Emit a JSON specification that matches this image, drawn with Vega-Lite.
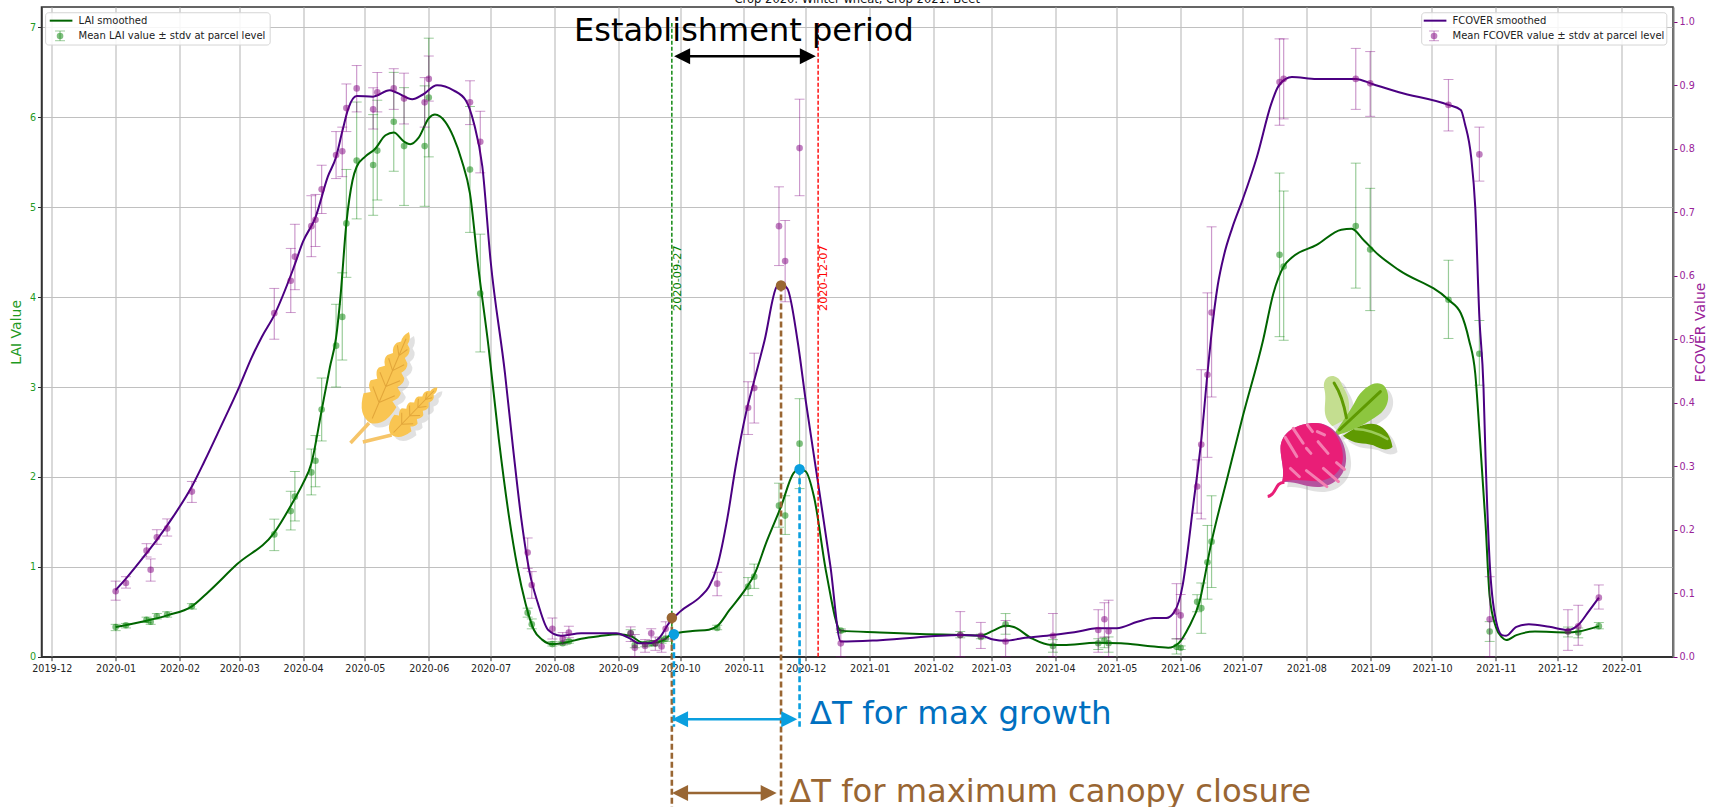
{
"$schema":"https://vega.github.io/schema/vega-lite/v6.json",
"autosize":"none","width":1631.5,"height":649.7,
"padding":{"left":41.5,"top":7,"right":36,"bottom":150.3},
"background":"white",
"config":{"font":"DejaVu Sans","view":{"stroke":"#333","strokeWidth":1.5}},
"datasets":{
"obs":[
{"date":"2020-01-01","lai":0.33,"lai_lo":0.29,"lai_hi":0.36,"fc":0.103,"fc_lo":0.089,"fc_hi":0.119},
{"date":"2020-01-06","lai":0.35,"lai_lo":0.32,"lai_hi":0.37,"fc":0.116,"fc_lo":0.108,"fc_hi":0.126},
{"date":"2020-01-16","lai":0.41,"lai_lo":0.38,"lai_hi":0.44,"fc":0.167,"fc_lo":0.157,"fc_hi":0.178},
{"date":"2020-01-18","lai":0.39,"lai_lo":0.36,"lai_hi":0.42,"fc":0.137,"fc_lo":0.119,"fc_hi":0.154},
{"date":"2020-01-21","lai":0.45,"lai_lo":0.42,"lai_hi":0.48,"fc":0.188,"fc_lo":0.177,"fc_hi":0.2},
{"date":"2020-01-26","lai":0.47,"lai_lo":0.44,"lai_hi":0.5,"fc":0.202,"fc_lo":0.19,"fc_hi":0.217},
{"date":"2020-02-07","lai":0.56,"lai_lo":0.53,"lai_hi":0.59,"fc":0.26,"fc_lo":0.243,"fc_hi":0.276},
{"date":"2020-03-18","lai":1.36,"lai_lo":1.18,"lai_hi":1.53,"fc":0.541,"fc_lo":0.5,"fc_hi":0.58},
{"date":"2020-03-26","lai":1.62,"lai_lo":1.41,"lai_hi":1.84,"fc":0.592,"fc_lo":0.542,"fc_hi":0.643},
{"date":"2020-03-28","lai":1.78,"lai_lo":1.51,"lai_hi":2.06,"fc":0.63,"fc_lo":0.578,"fc_hi":0.681},
{"date":"2020-04-05","lai":2.05,"lai_lo":1.8,"lai_hi":2.31,"fc":0.678,"fc_lo":0.63,"fc_hi":0.726},
{"date":"2020-04-07","lai":2.18,"lai_lo":1.89,"lai_hi":2.46,"fc":0.688,"fc_lo":0.646,"fc_hi":0.728},
{"date":"2020-04-10","lai":2.75,"lai_lo":2.4,"lai_hi":3.1,"fc":0.736,"fc_lo":0.698,"fc_hi":0.774},
{"date":"2020-04-17","lai":3.46,"lai_lo":3.0,"lai_hi":3.92,"fc":0.79,"fc_lo":0.753,"fc_hi":0.827},
{"date":"2020-04-20","lai":3.78,"lai_lo":3.3,"lai_hi":4.27,"fc":0.796,"fc_lo":0.756,"fc_hi":0.834},
{"date":"2020-04-22","lai":4.82,"lai_lo":4.22,"lai_hi":5.42,"fc":0.864,"fc_lo":0.827,"fc_hi":0.902},
{"date":"2020-04-27","lai":5.52,"lai_lo":4.87,"lai_hi":6.17,"fc":0.895,"fc_lo":0.858,"fc_hi":0.931},
{"date":"2020-05-05","lai":5.47,"lai_lo":4.91,"lai_hi":6.03,"fc":0.862,"fc_lo":0.831,"fc_hi":0.896},
{"date":"2020-05-07","lai":5.63,"lai_lo":5.08,"lai_hi":6.19,"fc":0.889,"fc_lo":0.858,"fc_hi":0.92},
{"date":"2020-05-15","lai":5.95,"lai_lo":5.4,"lai_hi":6.5,"fc":0.895,"fc_lo":0.862,"fc_hi":0.926},
{"date":"2020-05-20","lai":5.68,"lai_lo":5.02,"lai_hi":6.33,"fc":0.879,"fc_lo":0.839,"fc_hi":0.919},
{"date":"2020-05-30","lai":5.68,"lai_lo":5.01,"lai_hi":6.35,"fc":0.873,"fc_lo":0.834,"fc_hi":0.912},
{"date":"2020-06-01","lai":6.22,"lai_lo":5.56,"lai_hi":6.88,"fc":0.91,"fc_lo":0.875,"fc_hi":0.946},
{"date":"2020-06-21","lai":5.42,"lai_lo":4.72,"lai_hi":6.12,"fc":0.873,"fc_lo":0.838,"fc_hi":0.907},
{"date":"2020-06-26","lai":4.04,"lai_lo":3.39,"lai_hi":4.7,"fc":0.811,"fc_lo":0.762,"fc_hi":0.859},
{"date":"2020-07-19","lai":0.49,"lai_lo":0.44,"lai_hi":0.54,"fc":0.164,"fc_lo":0.139,"fc_hi":0.187},
{"date":"2020-07-21","lai":0.36,"lai_lo":0.31,"lai_hi":0.42,"fc":0.113,"fc_lo":0.092,"fc_hi":0.134},
{"date":"2020-07-31","lai":0.14,"lai_lo":0.12,"lai_hi":0.17,"fc":0.044,"fc_lo":0.028,"fc_hi":0.061},
{"date":"2020-08-05","lai":0.15,"lai_lo":0.13,"lai_hi":0.17,"fc":0.028,"fc_lo":0.02,"fc_hi":0.038},
{"date":"2020-08-08","lai":0.17,"lai_lo":0.15,"lai_hi":0.19,"fc":0.038,"fc_lo":0.03,"fc_hi":0.048},
{"date":"2020-09-07","lai":0.26,"lai_lo":0.22,"lai_hi":0.3,"fc":0.037,"fc_lo":0.024,"fc_hi":0.047},
{"date":"2020-09-09","lai":0.13,"lai_lo":0.1,"lai_hi":0.17,"fc":0.014,"fc_lo":0,"fc_hi":0.035},
{"date":"2020-09-14","lai":0.14,"lai_lo":0.11,"lai_hi":0.17,"fc":0.017,"fc_lo":0.007,"fc_hi":0.027},
{"date":"2020-09-17","lai":0.15,"lai_lo":0.12,"lai_hi":0.18,"fc":0.037,"fc_lo":0.025,"fc_hi":0.044},
{"date":"2020-09-19","lai":0.15,"lai_lo":0.12,"lai_hi":0.18,"fc":0.021,"fc_lo":0.01,"fc_hi":0.031},
{"date":"2020-09-22","lai":0.18,"lai_lo":0.15,"lai_hi":0.21,"fc":0.016,"fc_lo":0.007,"fc_hi":0.027},
{"date":"2020-09-24","lai":0.2,"lai_lo":0.17,"lai_hi":0.23,"fc":0.044,"fc_lo":0.028,"fc_hi":0.055},
{"date":"2020-10-19","lai":0.32,"lai_lo":0.3,"lai_hi":0.35,"fc":0.115,"fc_lo":0.096,"fc_hi":0.133},
{"date":"2020-11-03","lai":0.78,"lai_lo":0.68,"lai_hi":0.88,"fc":0.392,"fc_lo":0.35,"fc_hi":0.433},
{"date":"2020-11-06","lai":0.89,"lai_lo":0.76,"lai_hi":1.03,"fc":0.423,"fc_lo":0.368,"fc_hi":0.478},
{"date":"2020-11-18","lai":1.68,"lai_lo":1.44,"lai_hi":1.93,"fc":0.678,"fc_lo":0.616,"fc_hi":0.74},
{"date":"2020-11-21","lai":1.57,"lai_lo":1.36,"lai_hi":1.79,"fc":0.623,"fc_lo":0.559,"fc_hi":0.687},
{"date":"2020-11-28","lai":2.37,"lai_lo":1.87,"lai_hi":2.87,"fc":0.801,"fc_lo":0.726,"fc_hi":0.878},
{"date":"2020-12-18","lai":0.29,"lai_lo":0.27,"lai_hi":0.31,"fc":0.021,"fc_lo":0,"fc_hi":0.042},
{"date":"2021-02-14","lai":0.24,"lai_lo":0.21,"lai_hi":0.28,"fc":0.034,"fc_lo":0,"fc_hi":0.071},
{"date":"2021-02-24","lai":0.22,"lai_lo":0.2,"lai_hi":0.25,"fc":0.033,"fc_lo":0.013,"fc_hi":0.054},
{"date":"2021-03-08","lai":0.36,"lai_lo":0.25,"lai_hi":0.48,"fc":0.024,"fc_lo":0,"fc_hi":0.057},
{"date":"2021-03-31","lai":0.12,"lai_lo":0.05,"lai_hi":0.19,"fc":0.033,"fc_lo":0,"fc_hi":0.068},
{"date":"2021-04-22","lai":0.15,"lai_lo":0.08,"lai_hi":0.2,"fc":0.042,"fc_lo":0.007,"fc_hi":0.074},
{"date":"2021-04-25","lai":0.18,"lai_lo":0.1,"lai_hi":0.21,"fc":0.059,"fc_lo":0.031,"fc_hi":0.085},
{"date":"2021-04-27","lai":0.15,"lai_lo":0.05,"lai_hi":0.22,"fc":0.04,"fc_lo":0,"fc_hi":0.089},
{"date":"2021-05-30","lai":0.11,"lai_lo":0.03,"lai_hi":0.2,"fc":0.071,"fc_lo":0.028,"fc_hi":0.115},
{"date":"2021-06-01","lai":0.1,"lai_lo":0.08,"lai_hi":0.12,"fc":0.065,"fc_lo":0.028,"fc_hi":0.098},
{"date":"2021-06-09","lai":0.61,"lai_lo":0.5,"lai_hi":0.69,"fc":0.268,"fc_lo":0.226,"fc_hi":0.31},
{"date":"2021-06-11","lai":0.54,"lai_lo":0.26,"lai_hi":0.82,"fc":0.334,"fc_lo":0.217,"fc_hi":0.452},
{"date":"2021-06-14","lai":1.05,"lai_lo":0.64,"lai_hi":1.46,"fc":0.444,"fc_lo":0.314,"fc_hi":0.573},
{"date":"2021-06-16","lai":1.28,"lai_lo":0.77,"lai_hi":1.79,"fc":0.542,"fc_lo":0.409,"fc_hi":0.677},
{"date":"2021-07-19","lai":4.47,"lai_lo":3.56,"lai_hi":5.38,"fc":0.905,"fc_lo":0.837,"fc_hi":0.973},
{"date":"2021-07-21","lai":4.34,"lai_lo":3.52,"lai_hi":5.18,"fc":0.91,"fc_lo":0.847,"fc_hi":0.973},
{"date":"2021-08-25","lai":4.79,"lai_lo":4.1,"lai_hi":5.49,"fc":0.91,"fc_lo":0.862,"fc_hi":0.958},
{"date":"2021-09-01","lai":4.53,"lai_lo":3.85,"lai_hi":5.21,"fc":0.903,"fc_lo":0.851,"fc_hi":0.953},
{"date":"2021-10-09","lai":3.97,"lai_lo":3.54,"lai_hi":4.41,"fc":0.869,"fc_lo":0.828,"fc_hi":0.909},
{"date":"2021-10-24","lai":3.37,"lai_lo":3.02,"lai_hi":3.74,"fc":0.791,"fc_lo":0.749,"fc_hi":0.834},
{"date":"2021-10-29","lai":0.28,"lai_lo":0.17,"lai_hi":0.39,"fc":0.059,"fc_lo":0,"fc_hi":0.126},
{"date":"2021-12-06","lai":0.28,"lai_lo":0.22,"lai_hi":0.33,"fc":0.04,"fc_lo":0.01,"fc_hi":0.074},
{"date":"2021-12-11","lai":0.27,"lai_lo":0.21,"lai_hi":0.32,"fc":0.048,"fc_lo":0.018,"fc_hi":0.081},
{"date":"2021-12-21","lai":0.34,"lai_lo":0.31,"lai_hi":0.38,"fc":0.093,"fc_lo":0.075,"fc_hi":0.113}
],
"lai_line":[
{"date":"2020-01-01","v":0.33},{"date":"2020-01-16","v":0.40},{"date":"2020-01-26","v":0.46},{"date":"2020-02-07","v":0.56},{"date":"2020-02-15","v":0.72},{"date":"2020-02-29","v":1.03},{"date":"2020-03-18","v":1.38},{"date":"2020-03-28","v":1.76},{"date":"2020-04-01","v":1.93},{"date":"2020-04-05","v":2.15},{"date":"2020-04-10","v":2.74},{"date":"2020-04-14","v":3.22},{"date":"2020-04-17","v":3.55},{"date":"2020-04-19","v":3.97},{"date":"2020-04-22","v":4.82},{"date":"2020-04-25","v":5.30},{"date":"2020-04-27","v":5.45},{"date":"2020-05-01","v":5.56},{"date":"2020-05-06","v":5.65},{"date":"2020-05-11","v":5.80},{"date":"2020-05-15","v":5.83},{"date":"2020-05-20","v":5.73},{"date":"2020-05-23","v":5.70},{"date":"2020-05-27","v":5.77},{"date":"2020-06-01","v":5.99},{"date":"2020-06-04","v":6.03},{"date":"2020-06-09","v":5.95},{"date":"2020-06-13","v":5.78},{"date":"2020-06-17","v":5.52},{"date":"2020-06-21","v":5.15},{"date":"2020-06-25","v":4.34},{"date":"2020-06-30","v":3.45},{"date":"2020-07-05","v":2.42},{"date":"2020-07-10","v":1.55},{"date":"2020-07-14","v":1.0},{"date":"2020-07-18","v":0.59},{"date":"2020-07-22","v":0.30},{"date":"2020-07-26","v":0.19},{"date":"2020-07-31","v":0.14},{"date":"2020-08-06","v":0.155},{"date":"2020-08-14","v":0.20},{"date":"2020-08-23","v":0.23},{"date":"2020-09-01","v":0.25},{"date":"2020-09-07","v":0.23},{"date":"2020-09-13","v":0.155},{"date":"2020-09-18","v":0.155},{"date":"2020-09-23","v":0.185},{"date":"2020-09-27","v":0.25},{"date":"2020-10-07","v":0.285},{"date":"2020-10-15","v":0.30},{"date":"2020-10-19","v":0.34},{"date":"2020-10-25","v":0.52},{"date":"2020-11-02","v":0.76},{"date":"2020-11-06","v":0.91},{"date":"2020-11-12","v":1.28},{"date":"2020-11-19","v":1.67},{"date":"2020-11-25","v":2.04},{"date":"2020-11-28","v":2.085},{"date":"2020-12-01","v":2.06},{"date":"2020-12-05","v":1.78},{"date":"2020-12-11","v":0.93},{"date":"2020-12-18","v":0.29},{"date":"2021-01-06","v":0.27},{"date":"2021-01-16","v":0.26},{"date":"2021-02-14","v":0.24},{"date":"2021-02-24","v":0.235},{"date":"2021-03-02","v":0.29},{"date":"2021-03-08","v":0.345},{"date":"2021-03-12","v":0.33},{"date":"2021-03-21","v":0.20},{"date":"2021-03-30","v":0.13},{"date":"2021-04-05","v":0.13},{"date":"2021-04-21","v":0.155},{"date":"2021-05-03","v":0.15},{"date":"2021-05-16","v":0.12},{"date":"2021-05-26","v":0.10},{"date":"2021-05-31","v":0.15},{"date":"2021-06-05","v":0.33},{"date":"2021-06-10","v":0.60},{"date":"2021-06-16","v":1.28},{"date":"2021-06-24","v":2.02},{"date":"2021-07-01","v":2.66},{"date":"2021-07-11","v":3.52},{"date":"2021-07-16","v":4.04},{"date":"2021-07-21","v":4.34},{"date":"2021-07-25","v":4.44},{"date":"2021-08-06","v":4.58},{"date":"2021-08-18","v":4.75},{"date":"2021-08-23","v":4.76},{"date":"2021-08-29","v":4.63},{"date":"2021-09-05","v":4.47},{"date":"2021-09-15","v":4.30},{"date":"2021-10-09","v":3.97},{"date":"2021-10-15","v":3.82},{"date":"2021-10-19","v":3.52},{"date":"2021-10-22","v":3.15},{"date":"2021-10-24","v":2.52},{"date":"2021-10-27","v":1.48},{"date":"2021-10-29","v":0.67},{"date":"2021-11-01","v":0.33},{"date":"2021-11-04","v":0.215},{"date":"2021-11-06","v":0.185},{"date":"2021-11-11","v":0.24},{"date":"2021-11-20","v":0.28},{"date":"2021-12-06","v":0.27},{"date":"2021-12-11","v":0.28},{"date":"2021-12-21","v":0.34}
],
"fc_line":[
{"date":"2020-01-01","v":0.105},{"date":"2020-01-06","v":0.123},{"date":"2020-01-16","v":0.163},{"date":"2020-01-21","v":0.184},{"date":"2020-01-29","v":0.221},{"date":"2020-02-07","v":0.268},{"date":"2020-02-13","v":0.307},{"date":"2020-02-21","v":0.362},{"date":"2020-03-01","v":0.425},{"date":"2020-03-07","v":0.471},{"date":"2020-03-12","v":0.504},{"date":"2020-03-18","v":0.538},{"date":"2020-03-27","v":0.609},{"date":"2020-04-01","v":0.654},{"date":"2020-04-07","v":0.692},{"date":"2020-04-13","v":0.756},{"date":"2020-04-17","v":0.787},{"date":"2020-04-20","v":0.827},{"date":"2020-04-23","v":0.864},{"date":"2020-04-27","v":0.883},{"date":"2020-05-05","v":0.882},{"date":"2020-05-13","v":0.892},{"date":"2020-05-16","v":0.889},{"date":"2020-05-24","v":0.878},{"date":"2020-05-29","v":0.885},{"date":"2020-06-05","v":0.900},{"date":"2020-06-13","v":0.892},{"date":"2020-06-19","v":0.876},{"date":"2020-06-23","v":0.839},{"date":"2020-06-27","v":0.772},{"date":"2020-07-01","v":0.624},{"date":"2020-07-08","v":0.446},{"date":"2020-07-12","v":0.326},{"date":"2020-07-16","v":0.215},{"date":"2020-07-20","v":0.132},{"date":"2020-07-24","v":0.084},{"date":"2020-07-29","v":0.042},{"date":"2020-08-04","v":0.033},{"date":"2020-08-14","v":0.037},{"date":"2020-08-31","v":0.037},{"date":"2020-09-07","v":0.028},{"date":"2020-09-11","v":0.021},{"date":"2020-09-16","v":0.021},{"date":"2020-09-21","v":0.030},{"date":"2020-09-26","v":0.055},{"date":"2020-10-01","v":0.071},{"date":"2020-10-11","v":0.095},{"date":"2020-10-15","v":0.110},{"date":"2020-10-19","v":0.142},{"date":"2020-10-24","v":0.219},{"date":"2020-10-28","v":0.300},{"date":"2020-11-02","v":0.384},{"date":"2020-11-06","v":0.435},{"date":"2020-11-11","v":0.498},{"date":"2020-11-17","v":0.583},{"date":"2020-11-19","v":0.586},{"date":"2020-11-22","v":0.580},{"date":"2020-11-27","v":0.498},{"date":"2020-12-01","v":0.403},{"date":"2020-12-07","v":0.273},{"date":"2020-12-13","v":0.142},{"date":"2020-12-18","v":0.024},{"date":"2021-01-06","v":0.026},{"date":"2021-02-14","v":0.034},{"date":"2021-02-24","v":0.033},{"date":"2021-03-02","v":0.027},{"date":"2021-03-08","v":0.025},{"date":"2021-03-16","v":0.029},{"date":"2021-03-31","v":0.034},{"date":"2021-04-13","v":0.040},{"date":"2021-04-21","v":0.045},{"date":"2021-05-01","v":0.045},{"date":"2021-05-11","v":0.055},{"date":"2021-05-19","v":0.061},{"date":"2021-05-25","v":0.061},{"date":"2021-05-29","v":0.071},{"date":"2021-06-02","v":0.113},{"date":"2021-06-04","v":0.157},{"date":"2021-06-07","v":0.236},{"date":"2021-06-11","v":0.341},{"date":"2021-06-14","v":0.446},{"date":"2021-06-16","v":0.510},{"date":"2021-06-19","v":0.585},{"date":"2021-06-22","v":0.632},{"date":"2021-06-26","v":0.675},{"date":"2021-07-01","v":0.719},{"date":"2021-07-08","v":0.787},{"date":"2021-07-15","v":0.871},{"date":"2021-07-18","v":0.896},{"date":"2021-07-22","v":0.910},{"date":"2021-07-25","v":0.913},{"date":"2021-08-06","v":0.910},{"date":"2021-08-25","v":0.910},{"date":"2021-09-02","v":0.902},{"date":"2021-09-15","v":0.889},{"date":"2021-10-09","v":0.869},{"date":"2021-10-15","v":0.861},{"date":"2021-10-17","v":0.839},{"date":"2021-10-20","v":0.787},{"date":"2021-10-22","v":0.708},{"date":"2021-10-24","v":0.535},{"date":"2021-10-26","v":0.425},{"date":"2021-10-27","v":0.314},{"date":"2021-10-29","v":0.149},{"date":"2021-11-01","v":0.058},{"date":"2021-11-04","v":0.034},{"date":"2021-11-06","v":0.033},{"date":"2021-11-11","v":0.047},{"date":"2021-11-17","v":0.051},{"date":"2021-11-27","v":0.047},{"date":"2021-12-06","v":0.042},{"date":"2021-12-11","v":0.050},{"date":"2021-12-16","v":0.071},{"date":"2021-12-21","v":0.093}
]
},
"encoding":{"x":{"field":"date","type":"temporal","title":null,
"scale":{"type":"utc","domain":["2019-11-26","2022-01-26"]},
"axis":{"format":"%Y-%m","tickCount":{"interval":"month","step":1},"labelAngle":0,"labelOverlap":false,"labelFlush":false,"labelFontSize":9.6,"labelColor":"#222","labelPadding":3,"tickColor":"#333","tickSize":4,"domainColor":"#333","domainWidth":1.5,"grid":true,"gridColor":"#c0c0c0","gridWidth":1.2}}},
"resolve":{"scale":{"y":"independent"}},
"layer":[
{"data":{"name":"obs"},
 "layer":[
 {"data":{"name":"lai_line"},"mark":{"type":"line","color":"darkgreen","strokeWidth":2,"interpolate":"monotone"},
  "encoding":{"y":{"field":"v","type":"quantitative","title":"LAI Value","scale":{"domain":[0,7.227]},
   "axis":{"orient":"left","values":[0,1,2,3,4,5,6,7],"format":"d","labelColor":"#229922","labelFontSize":9.6,"titleColor":"#1f9a1f","titleFontSize":14,"titleFontWeight":"normal","titlePadding":6,"tickColor":"#333","tickSize":4,"domainColor":"#333","domainWidth":1.5,"grid":true,"gridColor":"#c0c0c0","gridWidth":1.2}}}},
 {"mark":{"type":"rule","color":"green","opacity":0.4,"strokeWidth":1.2},
  "encoding":{"y":{"field":"lai_lo","type":"quantitative","title":"LAI Value","scale":{"domain":[0,7.227]}},"y2":{"field":"lai_hi"}}},
 {"mark":{"type":"tick","orient":"horizontal","size":10,"thickness":1,"color":"green","opacity":0.4},
  "encoding":{"y":{"field":"lai_lo","type":"quantitative","title":"LAI Value","scale":{"domain":[0,7.227]}}}},
 {"mark":{"type":"tick","orient":"horizontal","size":10,"thickness":1,"color":"green","opacity":0.4},
  "encoding":{"y":{"field":"lai_hi","type":"quantitative","title":"LAI Value","scale":{"domain":[0,7.227]}}}},
 {"mark":{"type":"circle","size":44,"color":"green","opacity":0.5},
  "encoding":{"y":{"field":"lai","type":"quantitative","title":"LAI Value","scale":{"domain":[0,7.227]}}}}
 ]},
{"data":{"name":"obs"},
 "layer":[
 {"data":{"name":"fc_line"},"mark":{"type":"line","color":"indigo","strokeWidth":2,"interpolate":"monotone"},
  "encoding":{"y":{"field":"v","type":"quantitative","title":"FCOVER Value","scale":{"domain":[0,1.0232]},
   "axis":{"orient":"right","values":[0,0.1,0.2,0.3,0.4,0.5,0.6,0.7,0.8,0.9,1.0],"format":".1f","labelColor":"#992299","labelFontSize":9.6,"titleColor":"#992299","titleFontSize":14,"titleFontWeight":"normal","titleAngle":270,"titlePadding":13,"tickColor":"#800080","tickSize":4,"domainColor":"#777","domainWidth":2,"grid":false}}}},
 {"mark":{"type":"rule","color":"purple","opacity":0.4,"strokeWidth":1.2},
  "encoding":{"y":{"field":"fc_lo","type":"quantitative","title":"FCOVER Value","scale":{"domain":[0,1.0232]}},"y2":{"field":"fc_hi"}}},
 {"mark":{"type":"tick","orient":"horizontal","size":10,"thickness":1,"color":"purple","opacity":0.4},
  "encoding":{"y":{"field":"fc_lo","type":"quantitative","title":"FCOVER Value","scale":{"domain":[0,1.0232]}}}},
 {"mark":{"type":"tick","orient":"horizontal","size":10,"thickness":1,"color":"purple","opacity":0.4},
  "encoding":{"y":{"field":"fc_hi","type":"quantitative","title":"FCOVER Value","scale":{"domain":[0,1.0232]}}}},
 {"mark":{"type":"circle","size":44,"color":"purple","opacity":0.5},
  "encoding":{"y":{"field":"fc","type":"quantitative","title":"FCOVER Value","scale":{"domain":[0,1.0232]}}}}
 ]},
{"encoding":{"y":{"field":"y","type":"quantitative","scale":{"domain":[0,7.227]},"axis":null}},
 "layer":[
 {"data":{"values":[{"date":"2020-09-27","y":0,"y2":7.05}]},"mark":{"type":"rule","color":"green","strokeWidth":1.4,"strokeDash":[4,2]},"encoding":{"y2":{"field":"y2"}}},
 {"data":{"values":[{"date":"2020-12-07","y":0,"y2":7.05}]},"mark":{"type":"rule","color":"red","strokeWidth":1.4,"strokeDash":[4,2]},"encoding":{"y2":{"field":"y2"}}},
 {"data":{"values":[{"date":"2020-09-27","y":3.845,"t":"2020-09-27"}]},"mark":{"type":"text","angle":270,"align":"left","baseline":"middle","dy":6,"fontSize":11.3,"color":"green"},"encoding":{"text":{"field":"t"}}},
 {"data":{"values":[{"date":"2020-12-07","y":3.845,"t":"2020-12-07"}]},"mark":{"type":"text","angle":270,"align":"left","baseline":"middle","dy":6,"fontSize":11.3,"color":"red"},"encoding":{"text":{"field":"t"}}},
 {"data":{"values":[{"date":"2020-09-27","y":0.434,"y2":-1.7},{"date":"2020-11-19","y":4.13,"y2":-1.7}]},"mark":{"type":"rule","color":"#996633","strokeWidth":2.6,"strokeDash":[6,3]},"encoding":{"y2":{"field":"y2"}}},
 {"data":{"values":[{"date":"2020-09-28","y":0.25,"y2":-0.78},{"date":"2020-11-28","y":2.085,"y2":-0.78}]},"mark":{"type":"rule","color":"#0a9fdf","strokeWidth":2.6,"strokeDash":[6,3]},"encoding":{"y2":{"field":"y2"}}},
 {"data":{"values":[{"date":"2020-09-27","y":0.434},{"date":"2020-11-19","y":4.13}]},"mark":{"type":"circle","size":110,"color":"#996633","opacity":1}},
 {"data":{"values":[{"date":"2020-09-28","y":0.25},{"date":"2020-11-28","y":2.085}]},"mark":{"type":"circle","size":110,"color":"#0a9fdf","opacity":1}},
 {"data":{"values":[{"date":"2020-10-01","date2":"2020-12-02","y":6.68}]},"mark":{"type":"rule","color":"black","strokeWidth":2.5},"encoding":{"x2":{"field":"date2"}}},
 {"data":{"values":[{"date":"2020-10-02","y":6.68}]},"mark":{"type":"point","filled":true,"shape":"M-1,0L1,-1L1,1Z","size":256,"color":"black","opacity":1}},
 {"data":{"values":[{"date":"2020-12-02","y":6.68}]},"mark":{"type":"point","filled":true,"shape":"M1,0L-1,-1L-1,1Z","size":256,"color":"black","opacity":1}},
 {"data":{"values":[{"date":"2020-10-01","date2":"2020-11-23","y":-0.696}]},"mark":{"type":"rule","color":"#0a9fdf","strokeWidth":2.5},"encoding":{"x2":{"field":"date2"}}},
 {"data":{"values":[{"date":"2020-10-01","y":-0.696}]},"mark":{"type":"point","filled":true,"shape":"M-1,0L1,-1L1,1Z","size":256,"color":"#0a9fdf","opacity":1}},
 {"data":{"values":[{"date":"2020-11-23","y":-0.696}]},"mark":{"type":"point","filled":true,"shape":"M1,0L-1,-1L-1,1Z","size":256,"color":"#0a9fdf","opacity":1}},
 {"data":{"values":[{"date":"2020-10-01","date2":"2020-11-13","y":-1.517}]},"mark":{"type":"rule","color":"#996633","strokeWidth":2.5},"encoding":{"x2":{"field":"date2"}}},
 {"data":{"values":[{"date":"2020-10-01","y":-1.517}]},"mark":{"type":"point","filled":true,"shape":"M-1,0L1,-1L1,1Z","size":256,"color":"#996633","opacity":1}},
 {"data":{"values":[{"date":"2020-11-13","y":-1.517}]},"mark":{"type":"point","filled":true,"shape":"M1,0L-1,-1L-1,1Z","size":256,"color":"#996633","opacity":1}},
 {"data":{"values":[{"date":"2020-11-01","y":6.96,"t":"Establishment period"}]},"mark":{"type":"text","align":"center","baseline":"middle","fontSize":32,"color":"black"},"encoding":{"text":{"field":"t"}}},
 {"data":{"values":[{"date":"2020-12-03","y":-0.635,"t":"ΔT for max growth"}]},"mark":{"type":"text","align":"left","baseline":"middle","fontSize":32.5,"color":"#0070c0"},"encoding":{"text":{"field":"t"}}},
 {"data":{"values":[{"date":"2020-11-23","y":-1.5,"t":"ΔT for maximum canopy closure"}]},"mark":{"type":"text","align":"left","baseline":"middle","fontSize":32.2,"color":"#996633"},"encoding":{"text":{"field":"t"}}},
 {"data":{"values":[{"date":"2020-12-26","y":7.271,"t":"Crop 2020: Winter wheat, Crop 2021: Beet"}]},"mark":{"type":"text","align":"center","baseline":"alphabetic","fontSize":11.5,"color":"#111"},"encoding":{"text":{"field":"t"}}},

 {"data":{"values":[{"date":"2019-11-28","date2":"2020-03-16","y":6.804,"y2":7.163},{"date":"2021-09-26","date2":"2022-01-23","y":6.804,"y2":7.163}]},"mark":{"type":"rect","fill":"white","fillOpacity":0.85,"stroke":"#d5d5d5","cornerRadius":3},"encoding":{"x2":{"field":"date2"},"y2":{"field":"y2"}}},
 {"data":{"values":[{"date":"2019-11-30","date2":"2019-12-11","y":7.075}]},"mark":{"type":"rule","color":"darkgreen","strokeWidth":2},"encoding":{"x2":{"field":"date2"}}},
 {"data":{"values":[{"date":"2021-09-27","date2":"2021-10-08","y":7.075}]},"mark":{"type":"rule","color":"indigo","strokeWidth":2},"encoding":{"x2":{"field":"date2"}}},
 {"data":{"values":[{"date":"2019-12-05","y":6.852,"y2":6.96}]},"mark":{"type":"rule","color":"green","opacity":0.4,"strokeWidth":1.2},"encoding":{"y2":{"field":"y2"}}},
 {"data":{"values":[{"date":"2019-12-05","y":6.852},{"date":"2019-12-05","y":6.96}]},"mark":{"type":"tick","orient":"horizontal","size":10,"thickness":1,"color":"green","opacity":0.4}},
 {"data":{"values":[{"date":"2019-12-05","y":6.904}]},"mark":{"type":"circle","size":44,"color":"green","opacity":0.5}},
 {"data":{"values":[{"date":"2021-10-02","y":6.852,"y2":6.96}]},"mark":{"type":"rule","color":"purple","opacity":0.4,"strokeWidth":1.2},"encoding":{"y2":{"field":"y2"}}},
 {"data":{"values":[{"date":"2021-10-02","y":6.852},{"date":"2021-10-02","y":6.96}]},"mark":{"type":"tick","orient":"horizontal","size":10,"thickness":1,"color":"purple","opacity":0.4}},
 {"data":{"values":[{"date":"2021-10-02","y":6.904}]},"mark":{"type":"circle","size":44,"color":"purple","opacity":0.5}},
 {"data":{"values":[{"date":"2019-12-14","y":7.075,"t":"LAI smoothed"},{"date":"2019-12-14","y":6.904,"t":"Mean LAI value ± stdv at parcel level"},{"date":"2021-10-11","y":7.075,"t":"FCOVER smoothed"},{"date":"2021-10-11","y":6.904,"t":"Mean FCOVER value ± stdv at parcel level"}]},"mark":{"type":"text","align":"left","baseline":"middle","fontSize":10,"color":"#222"},"encoding":{"text":{"field":"t"}}},

 {"data":{"values":[{"date":"2020-04-24","date2":"2020-05-03","y":2.377,"y2":2.60},{"date":"2020-04-30","date2":"2020-05-14","y":2.388,"y2":2.466}]},"mark":{"type":"rule","color":"#f6c569","strokeWidth":3.5},"encoding":{"x2":{"field":"date2"},"y2":{"field":"y2"}}},
 {"data":{"values":[{"date":"2020-05-13","y":3.106}]},"mark":{"type":"point","filled":true,"shape":"M0,1Q.3,.95 .36,.5L.24,.42Q.36,.3 .33,.2L.22,.12Q.32,0 .28,-.1L.18,-.18Q.27,-.3 .22,-.4L.13,-.48Q.2,-.6 .14,-.7L.07,-.76Q.1,-.88 0,-1Q-.1,-.88 -.07,-.76L-.14,-.7Q-.2,-.6 -.13,-.48L-.22,-.4Q-.27,-.3 -.18,-.18L-.28,-.1Q-.32,0 -.22,.12L-.33,.2Q-.36,.3 -.24,.42L-.36,.5Q-.3,.95 0,1Z","size":9801,"angle":23,"color":"#777","opacity":0.22,"xOffset":5,"yOffset":4}},
 {"data":{"values":[{"date":"2020-05-25","y":2.733}]},"mark":{"type":"point","filled":true,"shape":"M0,1Q.3,.95 .36,.5L.24,.42Q.36,.3 .33,.2L.22,.12Q.32,0 .28,-.1L.18,-.18Q.27,-.3 .22,-.4L.13,-.48Q.2,-.6 .14,-.7L.07,-.76Q.1,-.88 0,-1Q-.1,-.88 -.07,-.76L-.14,-.7Q-.2,-.6 -.13,-.48L-.22,-.4Q-.27,-.3 -.18,-.18L-.28,-.1Q-.32,0 -.22,.12L-.33,.2Q-.36,.3 -.24,.42L-.36,.5Q-.3,.95 0,1Z","size":4400,"angle":44,"color":"#777","opacity":0.22,"xOffset":5,"yOffset":4}},
 {"data":{"values":[{"date":"2020-05-13","y":3.106}]},"mark":{"type":"point","filled":true,"shape":"M0,1Q.3,.95 .36,.5L.24,.42Q.36,.3 .33,.2L.22,.12Q.32,0 .28,-.1L.18,-.18Q.27,-.3 .22,-.4L.13,-.48Q.2,-.6 .14,-.7L.07,-.76Q.1,-.88 0,-1Q-.1,-.88 -.07,-.76L-.14,-.7Q-.2,-.6 -.13,-.48L-.22,-.4Q-.27,-.3 -.18,-.18L-.28,-.1Q-.32,0 -.22,.12L-.33,.2Q-.36,.3 -.24,.42L-.36,.5Q-.3,.95 0,1Z","size":9801,"angle":23,"color":"#f9c552","opacity":1}},
 {"data":{"values":[{"date":"2020-05-25","y":2.733}]},"mark":{"type":"point","filled":true,"shape":"M0,1Q.3,.95 .36,.5L.24,.42Q.36,.3 .33,.2L.22,.12Q.32,0 .28,-.1L.18,-.18Q.27,-.3 .22,-.4L.13,-.48Q.2,-.6 .14,-.7L.07,-.76Q.1,-.88 0,-1Q-.1,-.88 -.07,-.76L-.14,-.7Q-.2,-.6 -.13,-.48L-.22,-.4Q-.27,-.3 -.18,-.18L-.28,-.1Q-.32,0 -.22,.12L-.33,.2Q-.36,.3 -.24,.42L-.36,.5Q-.3,.95 0,1Z","size":4400,"angle":44,"color":"#f9c552","opacity":1}},
 {"data":{"values":[{"date":"2020-05-13","y":3.106}]},"mark":{"type":"point","filled":false,"shape":"M0,.9L0,-.85M0,.55L-.24,.3M0,.55L.24,.3M0,.2L-.22,-.02M0,.2L.22,-.02M0,-.15L-.17,-.35M0,-.15L.17,-.35M0,-.48L-.11,-.66M0,-.48L.11,-.66","size":9801,"angle":23,"stroke":"#e0a338","strokeWidth":1,"opacity":0.9}},
 {"data":{"values":[{"date":"2020-05-25","y":2.733}]},"mark":{"type":"point","filled":false,"shape":"M0,.9L0,-.85M0,.55L-.24,.3M0,.55L.24,.3M0,.2L-.22,-.02M0,.2L.22,-.02M0,-.15L-.17,-.35M0,-.15L.17,-.35M0,-.48L-.11,-.66M0,-.48L.11,-.66","size":4400,"angle":44,"stroke":"#e0a338","strokeWidth":1,"opacity":0.9}},

 {"data":{"values":[{"date":"2021-08-04","y":2.244}]},"mark":{"type":"point","filled":true,"shape":"M.1,-1C.65,-1 1.05,-.45 1.05,.1C1.05,.7 .6,1 .15,1C-.25,1 -.55,.8 -.95,.85C-.85,.5 -1,.1 -1,-.2C-1,-.7 -.5,-1 .1,-1ZM.62,-.57C.9,-1 1.2,-1.4 1.35,-1.7C1.55,-2.1 2,-2.4 2.25,-2.15C2.5,-1.8 2.3,-1.4 2.06,-1.25C1.7,-1 1.4,-.8 .62,-.57ZM.62,-.9C.2,-1.3 .5,-1.6 .36,-2.1C.3,-2.5 .75,-2.6 .9,-2.25C1,-2 1.25,-1.8 1.1,-1.15ZM.95,-.6C1.3,-.85 1.7,-1.05 2,-.95C2.3,-.85 2.45,-.55 2.5,-.25C2.3,-.1 2.1,-.2 1.9,-.3C1.6,-.4 1.3,-.3 .95,-.6Z","size":4096,"color":"#777","opacity":0.22,"xOffset":5,"yOffset":5}},
 {"data":{"values":[{"date":"2021-08-04","y":2.244}]},"mark":{"type":"point","filled":true,"shape":"M.62,-.9C.2,-1.3 .5,-1.6 .36,-2.1C.3,-2.5 .75,-2.6 .9,-2.25C1,-2 1.25,-1.8 1.1,-1.15Z","size":4096,"color":"#c4de90","opacity":1}},
 {"data":{"values":[{"date":"2021-08-04","y":2.244}]},"mark":{"type":"point","filled":true,"shape":"M.95,-.6C1.3,-.85 1.7,-1.05 2,-.95C2.3,-.85 2.45,-.55 2.5,-.25C2.3,-.1 2.1,-.2 1.9,-.3C1.6,-.4 1.3,-.3 .95,-.6Z","size":4096,"color":"#5f9a02","opacity":1}},
 {"data":{"values":[{"date":"2021-08-04","y":2.244}]},"mark":{"type":"point","filled":true,"shape":"M.62,-.57C.9,-1 1.2,-1.4 1.35,-1.7C1.55,-2.1 2,-2.4 2.25,-2.15C2.5,-1.8 2.3,-1.4 2.06,-1.25C1.7,-1 1.4,-.8 .62,-.57Z","size":4096,"color":"#8dc63f","opacity":1}},
 {"data":{"values":[{"date":"2021-08-04","y":2.244}]},"mark":{"type":"point","filled":false,"shape":"M.84,-.78L2.12,-1.98M.675,-2.25C.9,-1.9 1,-1.5 1.06,-1.16","size":4096,"stroke":"#5f9a02","strokeWidth":3,"strokeCap":"round","opacity":1}},
 {"data":{"values":[{"date":"2021-08-04","y":2.244}]},"mark":{"type":"point","filled":false,"shape":"M1.34,-.81C1.7,-.8 2,-.7 2.34,-.5","size":4096,"stroke":"#9ccb5b","strokeWidth":2.5,"strokeCap":"round","opacity":1}},
 {"data":{"values":[{"date":"2021-08-04","y":2.244}]},"mark":{"type":"point","filled":true,"shape":"M.1,-1C.65,-1 1.05,-.45 1.05,.1C1.05,.7 .6,1 .15,1C-.25,1 -.55,.8 -.95,.85C-.85,.5 -1,.1 -1,-.2C-1,-.7 -.5,-1 .1,-1Z","size":4096,"color":"#b5529e","opacity":1}},
 {"data":{"values":[{"date":"2021-08-04","y":2.244}]},"mark":{"type":"point","filled":true,"shape":"M.1,-1C.6,-1 .95,-.45 .95,.05C.95,.5 .6,.8 .15,.82C-.25,.82 -.55,.72 -.95,.85C-.85,.5 -1,.1 -1,-.2C-1,-.7 -.5,-1 .1,-1Z","size":4096,"color":"#e91e77","opacity":1}},
 {"data":{"values":[{"date":"2021-08-04","y":2.244}]},"mark":{"type":"point","filled":false,"shape":"M-.875,.85C-1.2,.85 -1.1,1.25 -1.4,1.3","size":4096,"stroke":"#e91e77","strokeWidth":3,"opacity":1}},
 {"data":{"values":[{"date":"2021-08-04","y":2.244}]},"mark":{"type":"point","filled":false,"shape":"M-.606,-.83L-.293,-.365M-.85,-.55L-.49,.05M.175,-.415L.485,-.05M-.16,-.94L0,-.73M-.69,.42L-.41,.68M-.19,.49L.45,.99M.34,.42L.81,.83M.75,.24L1,.45M-.19,-.21L-.05,-.05M.15,-.73L.375,-.625","size":4096,"stroke":"#f47fb2","strokeWidth":3,"strokeCap":"round","opacity":1}}
 ]}
]
}
